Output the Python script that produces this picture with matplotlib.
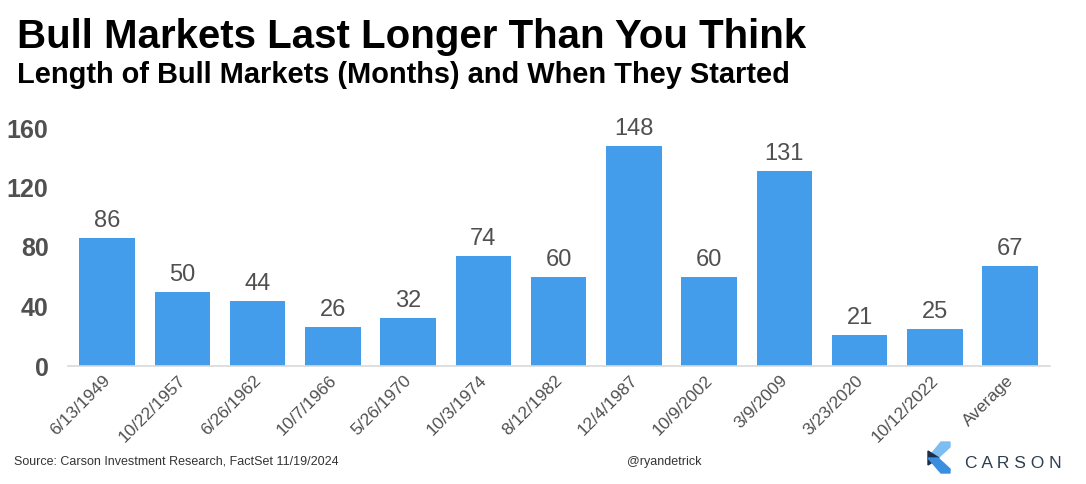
import matplotlib.pyplot as plt
from matplotlib.patches import Polygon

plt.rcParams["font.family"] = ["Liberation Sans", "DejaVu Sans"]

start_dates = ["6/13/1949", "10/22/1957", "6/26/1962", "10/7/1966", "5/26/1970",
               "10/3/1974", "8/12/1982", "12/4/1987", "10/9/2002", "3/9/2009",
               "3/23/2020", "10/12/2022", "Average"]
months = [86, 50, 44, 26, 32, 74, 60, 148, 60, 131, 21, 25, 67]
y_ticks = [0, 40, 80, 120, 160]

W, H = 1086, 484
fig = plt.figure(figsize=(W / 100, H / 100), dpi=100)
ax = fig.add_axes([68 / W, 1 - 366 / H, (1050 - 68) / W, (366 - 128) / H])

x = range(len(months))
bars = ax.bar(x, months, width=0.74, color="#449DEB")
for b, v in zip(bars, months):
    ax.text(b.get_x() + b.get_width() / 2, v + 4, str(v), ha="center", va="bottom",
            fontsize=17, color="#505050", clip_on=False)

ax.set_xlim(-0.52, len(months) - 0.47)
ax.set_ylim(0, 160)
ax.set_yticks(y_ticks)
ax.set_yticklabels([str(t) for t in y_ticks], fontsize=18, fontweight="bold", color="#505050")
ax.set_xticks(list(x))
ax.set_xticklabels(start_dates, rotation=45, ha="right", rotation_mode="anchor",
                   fontsize=12.5, color="#505050", va="center_baseline")
ax.tick_params(axis="both", length=0)
ax.tick_params(axis="y", pad=14)
ax.tick_params(axis="x", pad=8)
for s in ["top", "right", "left"]:
    ax.spines[s].set_visible(False)
ax.spines["bottom"].set_color("#d9d9d9")
ax.spines["bottom"].set_linewidth(1.2)

fig.text(17 / W, 1 - 37 / H, "Bull Markets Last Longer Than You Think", fontsize=29,
         fontweight="bold", color="black", va="center")
fig.text(17 / W, 1 - 75 / H, "Length of Bull Markets (Months) and When They Started",
         fontsize=20.9, fontweight="bold", color="black", va="center")
fig.text(14 / W, 1 - 462 / H, "Source: Carson Investment Research, FactSet 11/19/2024",
         fontsize=9, color="#333333", va="center")
fig.text(627 / W, 1 - 462 / H, "@ryandetrick", fontsize=9, color="#333333", va="center")

# logo
def px(pts):
    return [(a / W, 1 - b / H) for a, b in pts]

fig.patches.append(Polygon(px([(941, 442), (950, 442), (950, 447), (938, 458), (928, 458)]),
                           closed=True, color="#7DBDF0", transform=fig.transFigure))
fig.patches.append(Polygon(px([(928, 451), (939, 458), (928, 465)]),
                           closed=True, color="#1C2E4A", transform=fig.transFigure))
fig.patches.append(Polygon(px([(928, 458), (938, 458), (950, 469), (950, 473), (941, 473)]),
                           closed=True, color="#3A8EE0", transform=fig.transFigure))
fig.text(965 / W, 1 - 463 / H, "C A R S O N", fontsize=12.5, color="#2D3E50",
         va="center")

fig.savefig("out.png", dpi=100, facecolor="white")
